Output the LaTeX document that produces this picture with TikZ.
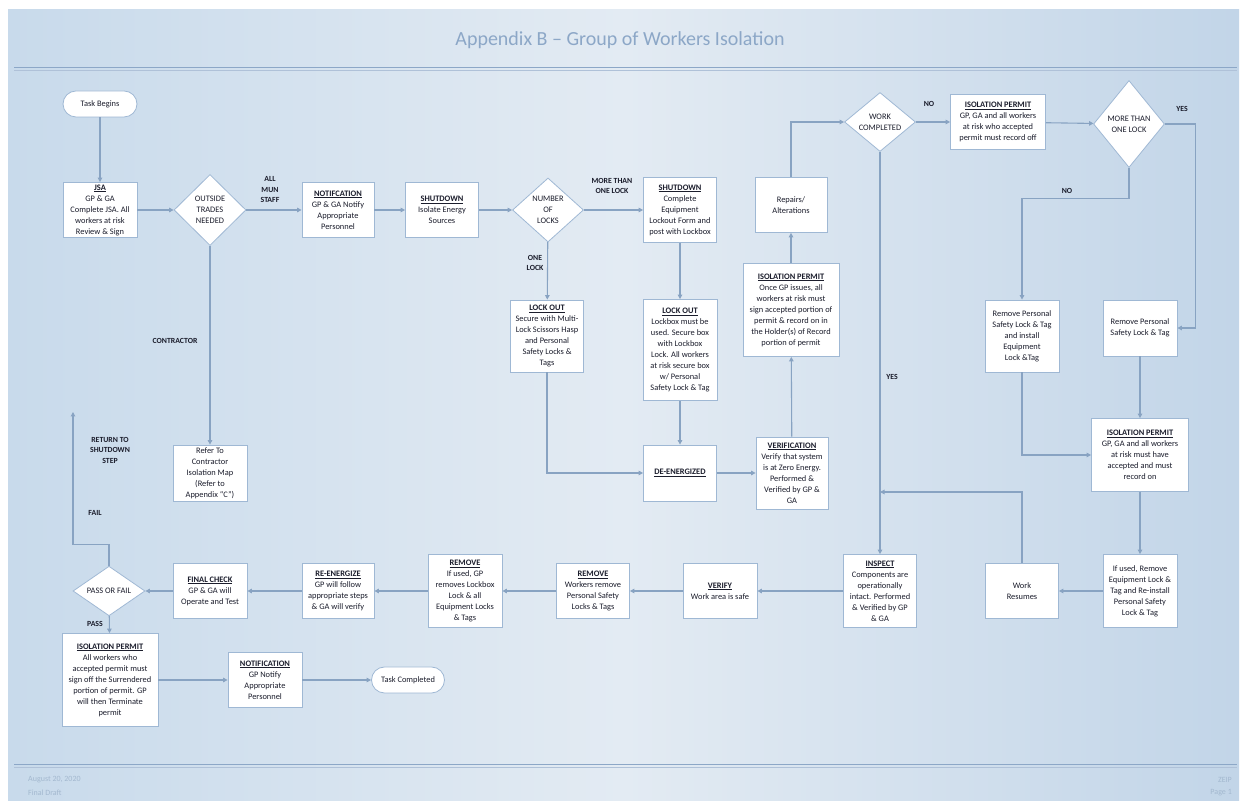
\documentclass[tikz,border=0pt]{standalone}
\usepackage{fontspec}
\setmainfont{Carlito}
\usetikzlibrary{arrows.meta,calc,positioning,shapes.geometric}

\newcommand{\boxhead}[1]{\underline{\textbf{#1}}}

\begin{document}
\begin{tikzpicture}[x=1pt,y=1pt, every node/.style={inner sep=0pt},
  pbox/.style n args={2}{draw=bs, fill=white, line width=0.8pt, minimum width=#1, minimum height=#2, align=center, font=\fontsize{8.4}{11}\selectfont, text=tx, anchor=center},
  tbox/.style n args={2}{pbox={#1}{#2}, rounded corners=13pt},
  dbox/.style n args={2}{diamond, draw=bs, fill=white, line width=0.8pt, minimum width=#1, minimum height=#2, align=center, font=\fontsize{8.4}{11}\selectfont, text=tx},
  lbl/.style={font=\bfseries\fontsize{7.8}{10.5}\selectfont, text=tx, align=center},
  conn/.style={draw=lc, line width=1.1pt, -{Triangle[length=4.5pt,width=4.5pt]}},
  foot/.style={font=\fontsize{8}{10}\selectfont, text=ft}]
\definecolor{bs}{HTML}{9FB8D4}\definecolor{lc}{HTML}{88A3C2}
\definecolor{tx}{HTML}{1B1D2C}\definecolor{ft}{HTML}{A3B8CF}
\definecolor{bgL}{HTML}{C8DAEB}\definecolor{bgM}{HTML}{E3EBF3}\definecolor{bgR}{HTML}{C2D5E8}
\definecolor{hc}{HTML}{8CA7C7}
\useasboundingbox (0pt,0pt) rectangle (1247pt,805pt);
\fill[white] (0pt,0pt) rectangle (1247pt,805pt);
\shade[left color=bgL, right color=bgR, middle color=bgM] (8pt,4pt) rectangle (1239pt,795pt);
% title and rules
\node[font=\fontsize{20}{24}\selectfont, text=hc] (title) at (620pt,765pt) {Appendix B -- Group of Workers Isolation};
\draw[draw=hc, line width=1.8pt] (14pt,737.5pt) -- (1237pt,737.5pt);
\draw[draw=hc!70, line width=0.8pt] (14pt,734.5pt) -- (1237pt,734.5pt);
\draw[draw=hc, line width=1.8pt] (14pt,40.5pt) -- (1237pt,40.5pt);
\draw[draw=hc!70, line width=0.8pt] (14pt,37.5pt) -- (1237pt,37.5pt);
\node[foot, anchor=west] (date) at (28pt,25pt) {August 20, 2020};
\node[foot, anchor=west] (draft) at (28pt,12pt) {Final Draft};
\node[foot, anchor=east] (org) at (1232pt,25pt) {ZEIP};
\node[foot, anchor=east] (page) at (1232pt,12pt) {Page 1};
% top row
\node[tbox={74pt}{26pt}] (begin) at (100pt,701pt) {Task Begins};
\node[pbox={74pt}{55pt}] (jsa) at (100pt,595pt) {\boxhead{JSA}\\GP \& GA\\Complete JSA. All\\workers at risk\\Review \& Sign};
\node[dbox={72pt}{71pt}] (trades) at (210pt,595pt) {OUTSIDE\\TRADES\\NEEDED};
\node[pbox={72pt}{55pt}] (notif) at (338pt,595pt) {\boxhead{NOTIFCATION}\\GP \& GA Notify\\Appropriate\\Personnel};
\node[pbox={73pt}{55pt}] (shutA) at (442pt,595pt) {\boxhead{SHUTDOWN}\\Isolate Energy\\Sources};
\node[dbox={71pt}{64pt}] (locks) at (548pt,595pt) {NUMBER\\OF\\LOCKS};
\node[pbox={73pt}{65pt}] (shutB) at (680pt,595pt) {\boxhead{SHUTDOWN}\\Complete\\Equipment\\Lockout Form and\\post with Lockbox};
\node[pbox={72pt}{55pt}] (repair) at (791pt,600pt) {Repairs/\\Alterations};
\node[dbox={71pt}{55pt}] (workc) at (880pt,683pt) {WORK\\COMPLETED};
\node[pbox={95pt}{55pt}] (isoT) at (998pt,683pt) {\boxhead{ISOLATION PERMIT}\\GP, GA and all workers\\at risk who accepted\\permit must record off};
\node[dbox={71pt}{87pt}] (more) at (1129pt,681pt) {MORE THAN\\ONE LOCK};
% middle
\node[pbox={73pt}{72pt}] (lockA) at (547pt,469pt) {\boxhead{LOCK OUT}\\Secure with Multi-\\Lock Scissors Hasp\\and Personal\\Safety Locks \&\\Tags};
\node[pbox={74pt}{101pt}] (lockB) at (680pt,455pt) {\boxhead{LOCK OUT}\\Lockbox must be\\used. Secure box\\with Lockbox\\Lock. All workers\\at risk secure box\\w/ Personal\\Safety Lock \& Tag};
\node[pbox={96pt}{93pt}] (isoM) at (791pt,495pt) {\boxhead{ISOLATION PERMIT}\\Once GP issues, all\\workers at risk must\\sign accepted portion of\\permit \& record on in\\the Holder(s) of Record\\portion of permit};
\node[pbox={73pt}{56pt}] (deen) at (680pt,332pt) {\boxhead{DE-ENERGIZED}};
\node[pbox={72pt}{72pt}] (verif) at (792pt,332pt) {\boxhead{VERIFICATION}\\Verify that system\\is at Zero Energy.\\Performed \&\\Verified by GP \&\\GA};
\node[pbox={74pt}{56pt}] (refer) at (210pt,332pt) {Refer To\\Contractor\\Isolation Map\\(Refer to\\Appendix “C”)};
\node[pbox={74pt}{72pt}] (remA) at (1022pt,469pt) {Remove Personal\\Safety Lock \& Tag\\and install\\Equipment\\Lock \&Tag};
\node[pbox={74pt}{56pt}] (remB) at (1140pt,477pt) {Remove Personal\\Safety Lock \& Tag};
\node[pbox={97pt}{73pt}] (isoR) at (1140pt,350pt) {\boxhead{ISOLATION PERMIT}\\GP, GA and all workers\\at risk must have\\accepted and must\\record on};
% bottom row
\node[pbox={74pt}{73pt}] (ifused) at (1140pt,214pt) {If used, Remove\\Equipment Lock \&\\Tag and Re-install\\Personal Safety\\Lock \& Tag};
\node[pbox={73pt}{55pt}] (resume) at (1022pt,214pt) {Work\\Resumes};
\node[pbox={73pt}{73pt}] (inspect) at (880pt,214pt) {\boxhead{INSPECT}\\Components are\\operationally\\intact. Performed\\\& Verified by GP\\\& GA};
\node[pbox={74pt}{55pt}] (verify) at (720pt,214pt) {\boxhead{VERIFY}\\Work area is safe};
\node[pbox={73pt}{55pt}] (remW) at (593pt,214pt) {\boxhead{REMOVE}\\Workers remove\\Personal Safety\\Locks \& Tags};
\node[pbox={74pt}{73pt}] (remG) at (465pt,214pt) {\boxhead{REMOVE}\\If used, GP\\removes Lockbox\\Lock \& all\\Equipment Locks\\\& Tags};
\node[pbox={72pt}{55pt}] (reen) at (338pt,214pt) {\boxhead{RE-ENERGIZE}\\GP will follow\\appropriate steps\\\& GA will verify};
\node[pbox={74pt}{55pt}] (final) at (210pt,214pt) {\boxhead{FINAL CHECK}\\GP \& GA will\\Operate and Test};
\node[dbox={72pt}{39pt}] (pass) at (109pt,214pt) {PASS OR FAIL};
\node[pbox={96pt}{93pt}] (isoB) at (110pt,125pt) {\boxhead{ISOLATION PERMIT}\\All workers who\\accepted permit must\\sign off the Surrendered\\portion of permit. GP\\will then Terminate\\permit};
\node[pbox={74pt}{55pt}] (notifB) at (265pt,125pt) {\boxhead{NOTIFICATION}\\GP Notify\\Appropriate\\Personnel};
\node[tbox={73pt}{26pt}] (done) at (408pt,125pt) {Task Completed};
% free ends
\coordinate (wr) at (880pt,313pt);
\coordinate (ret) at (73pt,393pt);
% connectors
\draw[conn] (begin) -- (jsa);
\draw[conn] (jsa) -- (trades);
\draw[conn] (trades) -- (notif);
\draw[conn] (trades) -- (refer);
\draw[conn] (notif) -- (shutA);
\draw[conn] (shutA) -- (locks);
\draw[conn] (locks) -- (shutB);
\draw[conn] (locks) -- (lockA);
\draw[conn] (shutB) -- (lockB);
\draw[conn] (lockB) -- (deen);
\draw[conn] (lockA.south) |- (deen.west);
\draw[conn] (deen) -- (verif);
\draw[conn] (verif) -- (isoM);
\draw[conn] (isoM) -- (repair);
\draw[conn] (repair.north) |- (workc.west);
\draw[conn] (workc) -- (isoT);
\draw[conn] (isoT) -- (more);
\draw[conn] (more.south) -- ++(0,-31) -| (remA.north);
\draw[conn] (more.east) -- ++(31,0) |- (remB.east);
\draw[conn] (remB) -- (isoR);
\draw[conn] (remA.south) |- (isoR.west);
\draw[conn] (isoR) -- (ifused);
\draw[conn] (ifused) -- (resume);
\draw[conn] (resume.north) |- (wr);
\draw[conn] (workc.south) -- (inspect.north);
\draw[conn] (inspect) -- (verify);
\draw[conn] (verify) -- (remW);
\draw[conn] (remW) -- (remG);
\draw[conn] (remG) -- (reen);
\draw[conn] (reen) -- (final);
\draw[conn] (final) -- (pass);
\draw[conn] (pass) -- (isoB);
\draw[conn] (pass.north) -- ++(0,21.5) -| (ret);
\draw[conn] (isoB) -- (notifB);
\draw[conn] (notifB) -- (done);
% connector labels
\node[lbl] (lAll) at (270pt,615pt) {ALL\\MUN\\STAFF};
\node[lbl] (lCon) at (175pt,464pt) {CONTRACTOR};
\node[lbl] (lMore) at (612pt,619pt) {MORE THAN\\ONE LOCK};
\node[lbl] (lOne) at (535pt,542pt) {ONE\\LOCK};
\node[lbl] (lNoA) at (929pt,701pt) {NO};
\node[lbl] (lYesA) at (1182pt,696pt) {YES};
\node[lbl] (lNoB) at (1067pt,614pt) {NO};
\node[lbl] (lYesB) at (892pt,428pt) {YES};
\node[lbl] (lRet) at (110pt,355pt) {RETURN TO\\SHUTDOWN\\STEP};
\node[lbl] (lFail) at (95pt,292pt) {FAIL};
\node[lbl] (lPass) at (95pt,181pt) {PASS};
\end{tikzpicture}
\end{document}
